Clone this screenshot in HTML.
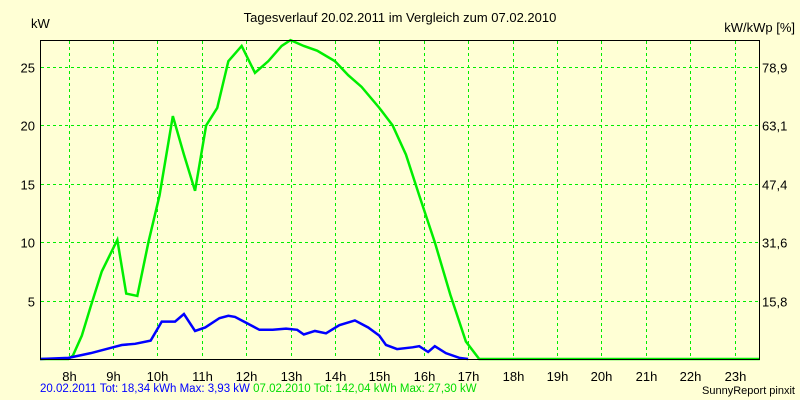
<!DOCTYPE html>
<html><head><meta charset="utf-8"><style>
body{margin:0;background:#ffffd5;}
svg{display:block;font-family:"Liberation Sans",sans-serif;}
</style></head><body>
<svg id="chart" width="800" height="400">
<rect x="0" y="0" width="800" height="400" fill="#ffffd5"/>
<text x="400" y="22" font-size="13" text-anchor="middle" fill="#000">Tagesverlauf 20.02.2011 im Vergleich zum 07.02.2010</text>
<text x="31" y="28" font-size="13" fill="#000">kW</text>
<text x="795" y="32" font-size="13" text-anchor="end" fill="#000">kW/kWp [%]</text>
<g id="grid"></g><g id="series"></g><g id="labels"></g>
<rect x="40.5" y="40.5" width="719" height="319" fill="none" stroke="#000" stroke-width="1"/>
<text x="40" y="392" font-size="11.5"><tspan fill="#0000ff">20.02.2011 Tot: 18,34 kWh Max: 3,93 kW</tspan><tspan fill="#00dd00"> 07.02.2010 Tot: 142,04 kWh Max: 27,30 kW</tspan></text>
<text x="795" y="394" font-size="11" text-anchor="end" fill="#000">SunnyReport pinxit</text>
</svg>
<script>
const hourTicks=[8,9,10,11,12,13,14,15,16,17,18,19,20,21,22,23];
const yTicks=[5,10,15,20,25];
const y2Labels=["15,8","31,6","47,4","63,1","78,9"];
const greenT=[7.36,8.0,8.1,8.3,8.5,8.75,9.1,9.3,9.55,9.8,10.05,10.35,10.6,10.85,11.1,11.35,11.6,11.9,12.2,12.5,12.8,13.0,13.3,13.6,14.0,14.3,14.6,15.0,15.3,15.6,15.9,16.25,16.6,16.95,17.25,23.57];
const greenV=[0,0,0.3,2,4.5,7.5,10.2,5.6,5.4,10,14,20.8,17.5,14.4,20,21.5,25.5,26.8,24.5,25.5,26.8,27.3,26.8,26.4,25.5,24.3,23.3,21.5,20,17.5,14,10,5.5,1.5,0,0];
const blueT=[7.36,8.0,8.5,9.0,9.2,9.5,9.85,10.1,10.4,10.6,10.85,11.08,11.4,11.6,11.75,12.0,12.3,12.6,12.9,13.15,13.3,13.55,13.8,14.1,14.45,14.75,15.0,15.15,15.4,15.75,15.9,16.1,16.25,16.5,16.8,17.0];
const blueV=[0,0.1,0.5,1.0,1.2,1.3,1.57,3.2,3.2,3.85,2.4,2.7,3.5,3.7,3.6,3.1,2.5,2.5,2.6,2.5,2.1,2.4,2.2,2.9,3.3,2.7,2.0,1.2,0.85,1.0,1.1,0.6,1.1,0.5,0.1,0];
const X=h=>68.5+(h-8)*44.4, Y=v=>359-v*11.68;
const NS="http://www.w3.org/2000/svg";
function mk(t,a,p){const e=document.createElementNS(NS,t);for(const k in a)e.setAttribute(k,a[k]);p.appendChild(e);return e;}
const grid=document.getElementById('grid'),lab=document.getElementById('labels'),ser=document.getElementById('series');
hourTicks.forEach(h=>{const x=Math.round(X(h))+0.5;
 const l=mk('line',{x1:x,y1:41,x2:x,y2:359,stroke:'#00ee00','stroke-dasharray':'3,3'},grid);
 
 
 const t=mk('text',{x:x,y:381,'font-size':13,'text-anchor':'middle'},lab);t.textContent=h+'h';
 
 });
yTicks.forEach((v,i)=>{const y=Math.round(Y(v))+0.5;
 const l=mk('line',{x1:41,y1:y,x2:759,y2:y,stroke:'#00ee00','stroke-dasharray':'3,3'},grid);
 
 
 const t=mk('text',{x:35,y:y+5,'font-size':13,'text-anchor':'end'},lab);t.textContent=v;
 
 
 const t2=mk('text',{x:762,y:y+5,'font-size':13},lab);t2.textContent=y2Labels[i];
 
 });
const g=mk('polyline',{points:greenT.map((t,i)=>X(t)+','+Y(greenV[i])).join(' '),fill:'none',stroke:'#00ee00','stroke-width':2.5},ser);


const b=mk('polyline',{points:blueT.map((t,i)=>X(t)+','+Y(blueV[i])).join(' '),fill:'none',stroke:'#0000ff','stroke-width':2.5},ser);


</script>
</body></html>
